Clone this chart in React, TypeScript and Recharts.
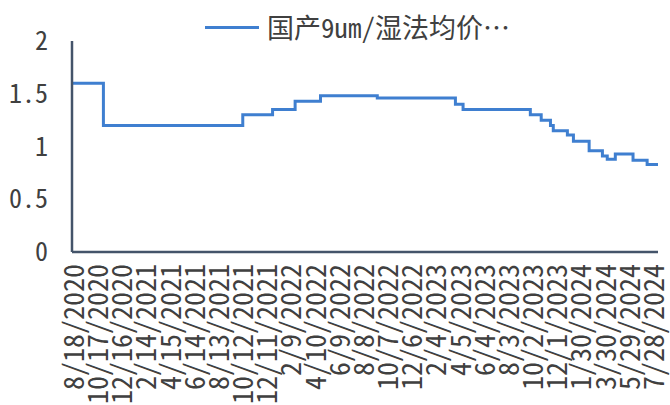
import React from "react";
import { LineChart, Line, XAxis, YAxis } from "recharts";

// dates where the price changes, and the price from that date on
const STEP_DATES = [
  "8/18/2020", "11/4/2020", "10/16/2021", "12/29/2021", "2/23/2022",
  "4/27/2022", "9/15/2022", "3/28/2023", "4/16/2023", "9/30/2023",
  "10/27/2023", "11/19/2023", "11/26/2023", "12/31/2023", "1/15/2024",
  "2/23/2024", "3/27/2024", "4/8/2024", "4/28/2024", "6/11/2024",
  "7/16/2024", "8/12/2024",
];
const PRICES = [
  1.6, 1.2, 1.3, 1.35, 1.43,
  1.48, 1.46, 1.4, 1.35, 1.3,
  1.25, 1.2, 1.15, 1.11, 1.05,
  0.96, 0.91, 0.88, 0.93, 0.87,
  0.83, 0.83,
];

const TICK_DATES = [
  "8/18/2020", "10/17/2020", "12/16/2020", "2/14/2021", "4/15/2021",
  "6/14/2021", "8/13/2021", "10/12/2021", "12/11/2021", "2/9/2022",
  "4/10/2022", "6/9/2022", "8/8/2022", "10/7/2022", "12/6/2022",
  "2/4/2023", "4/5/2023", "6/4/2023", "8/3/2023", "10/2/2023",
  "12/1/2023", "1/30/2024", "3/30/2024", "5/29/2024", "7/28/2024",
];
const Y_TICKS = [0, 0.5, 1, 1.5, 2];

const SERIES_NAME = "国产9um/湿法均价…";
const LINE_COLOR = "#3f7fd0";
const AXIS_COLOR = "#44546a";
const TEXT_COLOR = "#404040";
const FONT = '"Noto Sans Mono CJK SC", "Noto Sans CJK SC", sans-serif';

const DAY = 86400000;
function toDay(s: string): number {
  const [m, d, y] = s.split("/").map(Number);
  return Date.UTC(y, m - 1, d) / DAY;
}
function fromDay(n: number): string {
  const dt = new Date(n * DAY);
  return `${dt.getUTCMonth() + 1}/${dt.getUTCDate()}/${dt.getUTCFullYear()}`;
}

const data = STEP_DATES.map((d, i) => ({ day: toDay(d), price: PRICES[i] }));
const xTicks = TICK_DATES.map(toDay);

// date labels read bottom-to-top, hanging below the axis
function DateTick({ x, y, payload }: any) {
  const ty = y + 10;
  return (
    <text
      x={x}
      y={ty}
      transform={`rotate(-90 ${x} ${ty})`}
      textAnchor="end"
      dominantBaseline="central"
      fill={TEXT_COLOR}
      fontSize={28}
      fontFamily={FONT}
    >
      {fromDay(payload.value)}
    </text>
  );
}

export default function App() {
  return (
    <div style={{ position: "fixed", left: 0, top: 0, width: 670, height: 405, background: "#fff" }}>
      <div
        style={{
          position: "absolute",
          left: 205,
          top: 10,
          display: "flex",
          alignItems: "center",
          fontFamily: FONT,
          zIndex: 1,
        }}
      >
        <div style={{ width: 54, height: 3, background: LINE_COLOR, marginRight: 8 }} />
        <span style={{ fontSize: 27, color: TEXT_COLOR, lineHeight: "34px" }}>{SERIES_NAME}</span>
      </div>
      <LineChart
        width={670}
        height={405}
        data={data}
        margin={{ top: 41, right: 12, left: 32, bottom: 3 }}
      >
        <XAxis
          dataKey="day"
          type="number"
          domain={["dataMin", "dataMax"]}
          ticks={xTicks}
          interval={0}
          height={150}
          tickLine={false}
          tickSize={0}
          axisLine={{ stroke: AXIS_COLOR, strokeWidth: 2.5 }}
          tick={<DateTick />}
        />
        <YAxis
          domain={[0, 2]}
          ticks={Y_TICKS}
          width={40}
          tickLine={false}
          tickSize={0}
          tickMargin={24}
          axisLine={{ stroke: AXIS_COLOR, strokeWidth: 2.5 }}
          tick={{ fill: TEXT_COLOR, fontSize: 26, fontFamily: FONT }}
        />
        <Line
          type="stepAfter"
          dataKey="price"
          name={SERIES_NAME}
          stroke={LINE_COLOR}
          strokeWidth={3}
          dot={false}
          isAnimationActive={false}
        />
      </LineChart>
    </div>
  );
}
